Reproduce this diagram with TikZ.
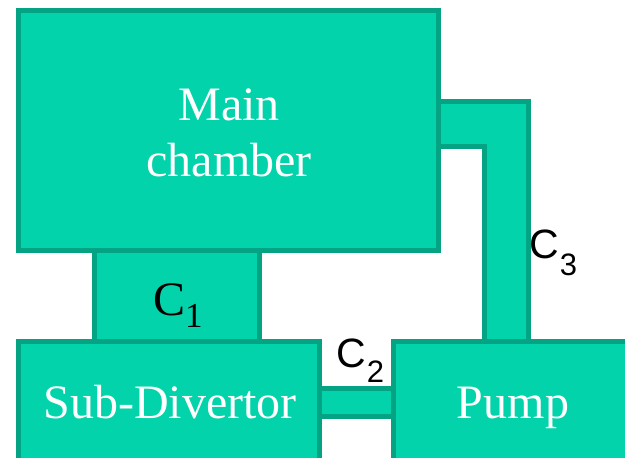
\documentclass[tikz,border=0pt]{standalone}
\usepackage{fontspec}
\setmainfont{Liberation Serif}
\newfontfamily\arialf{Liberation Sans}
\usetikzlibrary{backgrounds}
\definecolor{tealfill}{RGB}{2,211,171}
\definecolor{tealline}{RGB}{4,163,131}
\begin{document}
\begin{tikzpicture}[x=1pt,y=-1pt,
  box/.style={draw=tealline, fill=tealfill, line width=5pt, rectangle, inner sep=0pt, outer sep=0pt, anchor=north west},
  pipe/.style={draw=tealline, fill=tealfill, line width=5pt, line join=miter},
  wlbl/.style={text=white, font=\fontsize{48}{56}\selectfont, inner sep=0pt},
  clbl/.style={text=black, inner sep=0pt, anchor=base west}]
\useasboundingbox (0,0) rectangle (625,458);
\clip (0,0) rectangle (625,458);
\node[box, minimum width=419.5pt, minimum height=240pt] (mc) at (18.5,10.5) {};
\node[box, minimum width=300.5pt, minimum height=140pt] (sd) at (18.5,341) {};
\node[box, minimum width=260pt, minimum height=140pt] (pump) at (393,341) {};
\begin{scope}[on background layer]
  \draw[pipe] (94,0 |- mc.south) rectangle (259,0 |- sd.north);
  \draw[pipe] (sd.east |- 0,388) rectangle (pump.west |- 0,416);
  \draw[pipe] (mc.east |- 0,101) -- (528,101) -- (528,0 |- pump.north)
     -- (484,0 |- pump.north) -- (484,146) -- (mc.east |- 0,146) -- cycle;
\end{scope}
\node[wlbl, align=center, anchor=north] (mct) at (229,88.5) {Main\\chamber};
\node[wlbl, anchor=base] (sdt) at (170,418) {Sub-Divertor};
\node[wlbl, anchor=base] (pt) at (513,418) {Pump};
\node[clbl, font=\fontsize{48}{56}\selectfont] (c1) at (153,315)
  {C\raisebox{-12pt}{\fontsize{35}{40}\selectfont 1}};
\node[clbl, font=\arialf\fontsize{41}{48}\selectfont] (c2) at (336,367)
  {C\kern1pt\raisebox{-15pt}{\fontsize{31}{36}\selectfont 2}};
\node[clbl, font=\arialf\fontsize{41}{48}\selectfont] (c3) at (529,258)
  {C\kern1pt\raisebox{-17pt}{\fontsize{31}{36}\selectfont 3}};
\end{tikzpicture}
\end{document}
